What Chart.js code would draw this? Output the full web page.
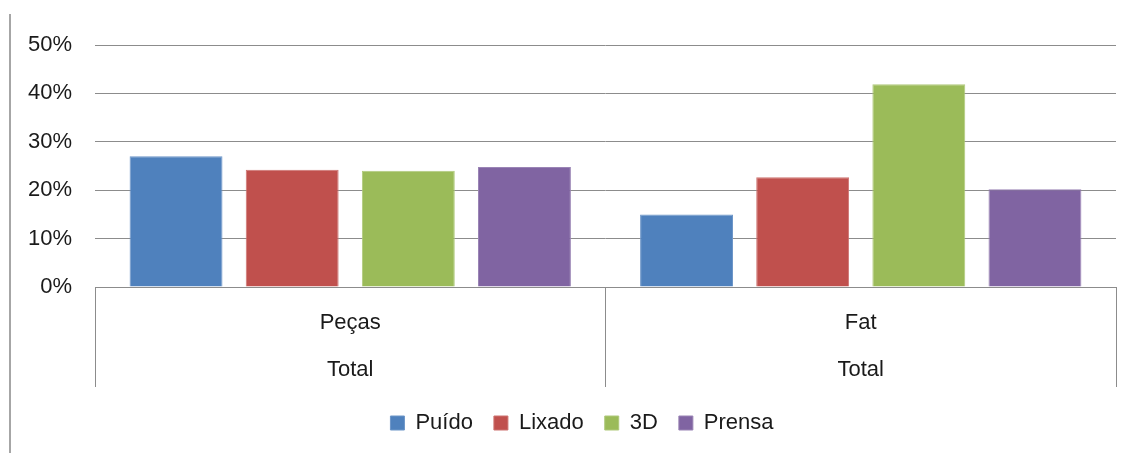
<!DOCTYPE html>
<html>
<head>
<meta charset="utf-8">
<script src="https://cdn.jsdelivr.net/npm/chart.js@4"></script>
<style>
  html, body { margin: 0; padding: 0; background: #fff; }
  #wrap { width: 1131px; height: 453px; position: relative; }
</style>
</head>
<body>
<div id="wrap"><canvas id="chart"></canvas></div>
<script>
// categories (two-level axis labels)
const categories = [['Peças', 'Total'], ['Fat', 'Total']];
// series values, in percent
const puido = [27.0, 15.0];
const lixado = [24.2, 22.7];
const tresD = [24.0, 41.9];
const prensa = [24.8, 20.2];
const yTicks = [0, 10, 20, 30, 40, 50];

const gridGray = '#8c8c8c';

// grey frame line at the left edge of the picture
const leftFrame = {
    id: 'leftFrame',
    beforeDraw(chart) {
        const ctx = chart.ctx;
        ctx.save();
        ctx.strokeStyle = '#a6a6a6';
        ctx.lineWidth = 2;
        ctx.beginPath();
        ctx.moveTo(10, 14);
        ctx.lineTo(10, 453);
        ctx.stroke();
        ctx.restore();
    }
};

// nudge the legend right, as in the original
const legendShift = {
    id: 'legendShift',
    afterLayout(chart) {
        const lg = chart.legend;
        if (!lg) return;
        lg.left += 24;
        lg.right += 24;
    }
};

const ctx = document.getElementById('chart').getContext('2d');
new Chart(ctx, {
    type: 'bar',
    data: {
        labels: categories,
        datasets: [
            { label: 'Puído', data: puido, backgroundColor: '#4f81bd', borderColor: '#6d96c8', borderWidth: 1 },
            { label: 'Lixado', data: lixado, backgroundColor: '#c0504d', borderColor: '#cd7370', borderWidth: 1 },
            { label: '3D', data: tresD, backgroundColor: '#9bbb59', borderColor: '#afc97b', borderWidth: 1 },
            { label: 'Prensa', data: prensa, backgroundColor: '#8064a2', borderColor: '#9a84b5', borderWidth: 1 }
        ]
    },
    options: {
        responsive: true,
        maintainAspectRatio: false,
        animation: false,
        categoryPercentage: 0.91,
        barPercentage: 0.80,
        layout: { padding: { left: 0, right: 15, top: 45, bottom: 9 } },
        plugins: {
            tooltip: { enabled: false },
            legend: {
                position: 'bottom',
                labels: {
                    boxWidth: 14,
                    boxHeight: 14,
                    padding: 21,
                    color: '#1a1a1a',
                    font: { family: 'Liberation Sans', size: 22 }
                }
            }
        },
        scales: {
            x: {
                grid: {
                    display: true,
                    offset: true,
                    drawOnChartArea: false,
                    drawTicks: true,
                    tickLength: 100,
                    color: gridGray
                },
                border: { display: true, color: gridGray },
                ticks: {
                    padding: -88,
                    color: '#1a1a1a',
                    font: { family: 'Liberation Sans', size: 22, lineHeight: 2.136 }
                },
                afterFit(scale) { scale.height = 104; }
            },
            y: {
                min: 0,
                max: 50,
                afterBuildTicks(scale) { scale.ticks = yTicks.map(v => ({ value: v })); },
                grid: { color: gridGray, drawTicks: false },
                border: { display: false },
                ticks: {
                    padding: 23,
                    color: '#1a1a1a',
                    font: { family: 'Liberation Sans', size: 22 },
                    callback: v => v + '%'
                },
                afterFit(scale) { scale.width = 95; }
            }
        }
    },
    plugins: [leftFrame, legendShift]
});
</script>
</body>
</html>
